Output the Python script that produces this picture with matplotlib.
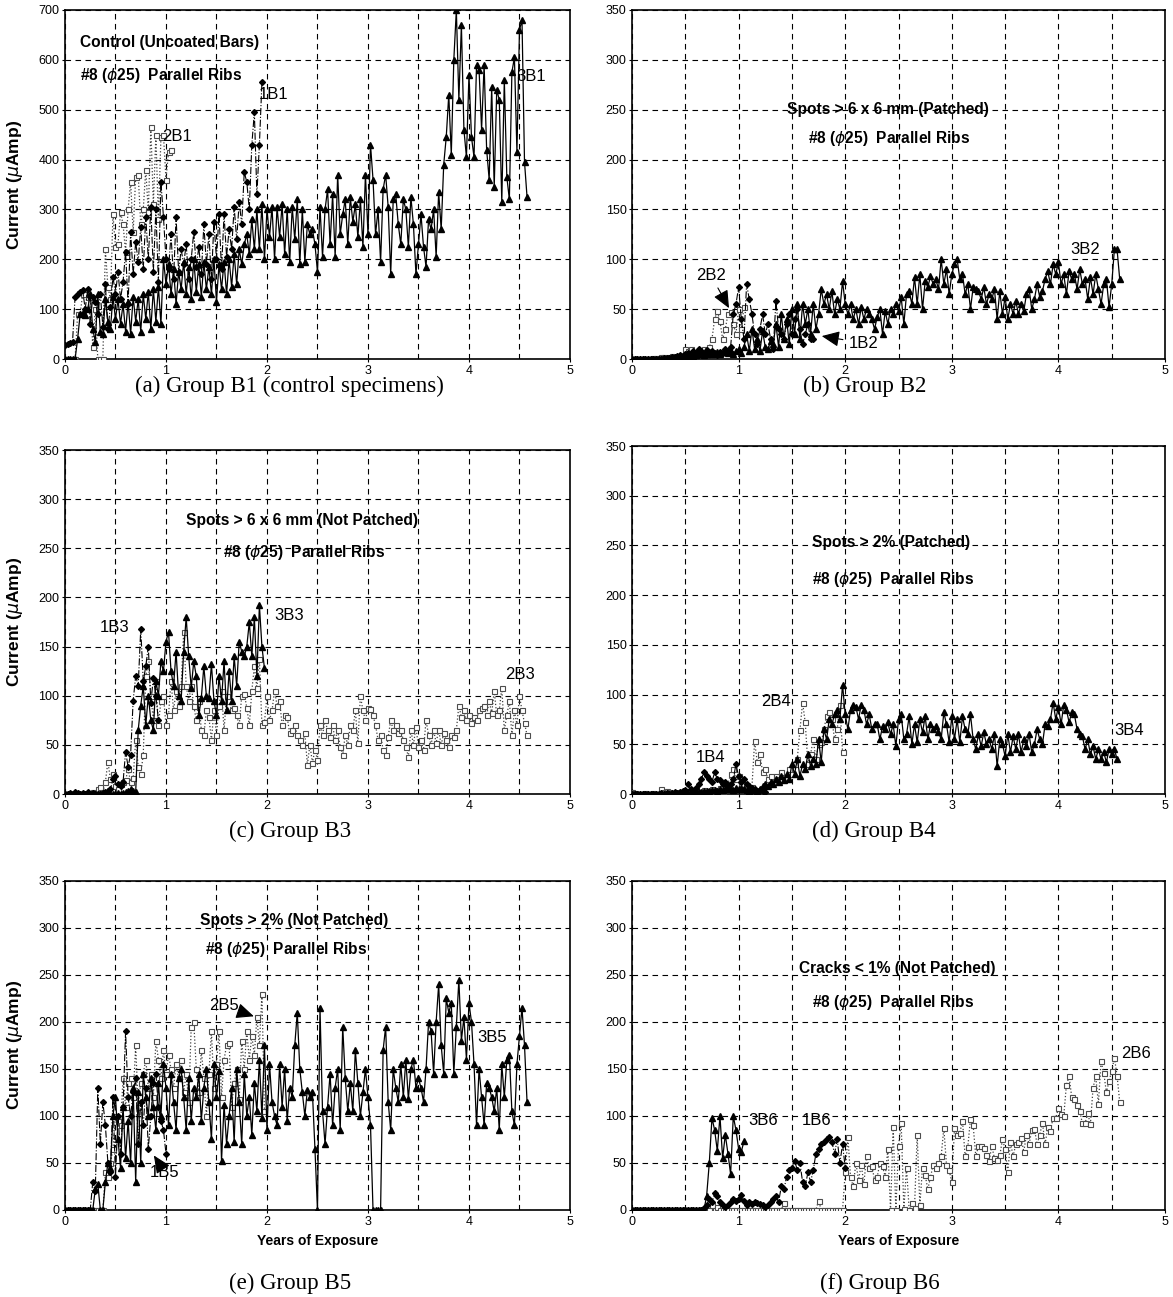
import numpy as np
import matplotlib
matplotlib.use("Agg")
import matplotlib.pyplot as plt
from matplotlib.ticker import MultipleLocator

plt.rcParams['font.family'] = ['Liberation Sans', 'DejaVu Sans']

DT = 0.025  # years between readings

# ---- Group B1 (control) ----
b1_1 = [28,30,33,35,125,130,135,138,100,140,70,125,115,90,130,65,150,60,105,165,
        130,175,120,155,215,110,255,170,235,195,265,180,285,200,305,175,300,155,355,285,
        200,180,250,160,285,175,220,190,230,160,200,255,185,225,170,270,190,250,160,275,
        200,290,180,290,205,260,220,305,240,315,270,375,355,300,430,495,330,430,555]
b1_2 = [0,0,0,0,0,90,90,130,130,125,125,25,100,0,0,0,220,145,120,290,
        225,230,295,270,215,300,355,255,365,370,270,300,380,295,465,310,450,280,445,450,
        360,415,420]
b1_3 = [0,0,0,0,0,40,90,92,88,100,130,60,35,130,55,50,120,75,60,125,
        80,120,70,110,55,115,50,125,75,120,55,130,80,135,60,140,75,145,70,200,
        150,190,130,180,110,175,140,195,130,185,120,200,135,190,125,195,140,185,130,200,
        115,190,140,195,130,200,145,210,150,220,190,230,250,210,280,220,300,220,310,200,
        300,245,305,200,305,245,310,210,300,195,305,240,320,190,300,195,270,250,260,230,
        175,305,205,300,340,230,330,205,370,250,290,320,230,325,275,310,245,320,225,370,
        250,430,360,250,300,195,340,370,305,170,320,330,270,230,320,300,225,325,270,170,
        230,290,225,185,280,260,300,205,335,260,390,445,530,410,600,700,520,670,460,405,
        570,445,405,590,580,460,590,420,360,545,345,540,520,315,560,365,320,575,605,415,
        660,680,395,325]

# ---- Group B2 ----
b2_1 = [0,0,0,0,0,0,0,0,0,0,0,0,1,1,1,2,2,3,4,3,
        5,6,5,8,6,10,8,5,9,7,8,5,4,7,6,10,8,12,45,55,
        72,40,20,75,60,45,25,15,30,45,25,35,20,10,58,30,25,20,35,45,
        25,40,50,30,15,25,35,20,20]
b2_2 = [0,0,0,0,0,0,0,0,1,1,1,2,2,1,2,3,2,2,3,3,
        10,8,10,5,7,6,8,10,9,12,20,40,48,38,20,30,45,47,35,25,
        50,30,52]
b2_3 = [0,0,0,0,0,0,0,0,0,0,0,0,0,0,1,1,1,1,2,2,
        2,3,3,3,4,5,5,4,5,6,5,6,7,5,7,8,6,8,5,8,
        10,6,12,25,8,30,10,20,8,28,12,10,18,15,35,12,45,20,40,15,
        50,25,55,20,55,35,50,25,55,30,45,70,55,65,50,68,45,60,50,78,
        55,45,55,40,50,35,52,40,50,45,40,30,42,50,25,48,35,50,45,55,
        48,62,35,65,68,55,82,55,85,50,78,72,83,75,80,70,100,75,90,65,
        85,95,100,80,85,65,75,50,72,70,68,60,72,55,65,60,70,40,68,45,
        62,40,55,45,58,45,55,48,65,70,50,60,75,62,68,80,88,75,95,85,
        97,75,85,65,88,80,85,70,90,75,80,60,82,65,85,70,55,75,80,52,
        75,110,110,80]

# ---- Group B3 ----
b3_1 = [0,0,1,0,2,1,0,1,0,2,0,1,0,0,0,1,2,3,5,15,
        18,10,8,12,43,28,40,95,120,110,168,115,130,150,93,118,100,75]
b3_2 = [0,0,0,0,0,0,0,0,0,1,0,2,0,5,7,2,12,33,15,20,
        8,5,10,12,14,25,12,16,55,28,20,40,120,135,100,75,115,70,95,100,
        70,80,115,85,105,90,110,165,110,95,110,90,75,95,65,60,85,78,55,85,
        60,90,105,65,100,95,85,88,80,70,100,102,88,70,105,130,108,137,70,73,
        100,75,85,105,90,95,70,80,78,62,65,70,60,55,50,62,30,50,32,45,
        35,70,60,75,65,58,70,55,65,48,40,60,50,70,65,85,52,100,85,75,
        88,87,80,70,55,60,45,40,58,75,65,70,62,65,55,48,38,65,50,68,
        48,55,45,75,60,50,65,52,65,50,62,55,48,60,58,65,90,78,85,75,
        80,72,78,75,85,88,90,80,95,82,105,80,85,108,65,80,95,60,85,70,
        100,85,72,60]
b3_3 = [0,0,0,0,0,0,0,0,0,0,0,0,0,0,0,0,0,0,0,0,
        0,1,0,1,2,3,5,3,2,65,90,110,70,100,75,65,115,100,135,125,
        155,165,125,110,145,100,95,145,180,140,108,135,120,80,98,130,100,98,132,95,
        80,120,95,135,85,125,95,140,110,155,145,140,150,175,140,180,120,192,150,128]

# ---- Group B4 ----
b4_1 = [0,0,0,0,0,0,0,0,0,0,0,1,0,1,0,1,2,1,2,3,
        4,10,5,3,6,10,15,22,18,15,12,22,15,14,10,12,8,10,15,30,
        18,12,15,10,8,6,5,3,4,3,2]
b4_2 = [2,1,0,0,0,1,0,0,1,0,0,5,2,3,2,1,0,1,2,0,
        2,1,2,0,3,2,1,4,2,3,5,2,4,6,3,8,10,20,25,15,
        18,10,5,8,6,7,53,32,40,22,25,15,18,12,18,15,22,17,15,25,
        20,30,35,64,92,72,30,40,55,35,50,52,65,78,82,75,55,65,90,42]
b4_3 = [0,0,0,0,0,0,0,0,0,0,0,0,0,0,0,0,0,0,0,1,
        1,1,1,2,2,2,2,3,3,3,4,4,3,5,4,5,6,5,4,6,
        5,6,5,4,3,5,4,3,5,8,10,8,12,10,15,12,18,14,20,15,
        30,20,35,18,30,25,40,28,35,30,55,32,65,55,75,70,80,85,75,110,
        80,65,85,90,88,75,90,85,70,80,65,70,70,55,68,65,72,60,70,48,
        75,80,55,60,78,50,70,52,75,62,78,55,70,65,68,62,55,82,70,52,
        78,55,75,52,78,65,60,80,55,45,60,48,62,50,55,45,60,28,55,50,
        38,60,42,58,45,60,42,55,48,60,42,50,65,55,50,70,68,75,92,75,
        88,70,90,85,72,82,80,65,60,58,45,55,40,48,35,45,35,42,32,45,
        40,45,35]

# ---- Group B5 ----
b5_1 = [0,0,0,0,0,0,0,0,0,0,0,30,20,130,70,115,90,50,40,120,
        35,100,60,110,190,120,100,125,140,70,115,90,130,65,100,135,145,110,95,85,
        60]
b5_2 = [0,0,0,0,0,0,0,0,0,0,0,0,0,0,0,0,40,35,50,65,
        100,95,90,140,110,135,140,120,175,110,135,145,160,130,145,120,180,160,140,170,
        145,165,150,130,155,140,160,125,145,115,195,200,150,125,170,140,100,145,190,130,
        155,190,120,160,175,178,110,135,150,118,180,150,190,160,185,165,205,175,230,105]
b5_3 = [0,0,0,0,0,0,0,0,0,0,0,0,22,28,0,0,30,50,45,100,
        120,75,45,110,55,95,50,130,30,125,50,145,120,100,140,110,85,135,100,155,
        130,90,145,115,85,140,150,120,85,140,95,130,120,145,95,130,150,115,75,155,
        120,148,52,112,70,100,130,72,150,115,70,145,100,120,80,135,105,160,98,175,
        85,155,115,100,90,155,110,150,95,130,120,175,210,150,125,100,128,120,125,65,
        0,215,105,70,110,145,90,130,150,85,195,140,105,135,105,170,135,100,125,150,
        120,90,0,0,0,0,170,195,115,85,150,130,115,155,120,160,118,150,160,130,
        140,130,115,150,200,190,145,200,240,175,145,225,210,220,145,195,245,180,205,160,
        220,200,155,90,150,120,90,135,130,120,105,130,85,155,120,160,165,105,90,155,
        185,215,175,115]

# ---- Group B6 ----
b6_1 = [0,0,0,0,0,0,0,0,0,0,0,0,0,0,0,0,0,0,0,0,
        0,0,0,0,0,0,0,2,5,12,8,18,15,8,5,3,5,8,12,10,
        12,16,10,5,8,6,8,7,6,5,3,5,8,12,15,8,25,22,35,42,
        45,52,43,50,30,25,40,30,42,60,65,70,72,75,78,72,60,75,50,70,
        45]
b6_2 = [0,0,0,0,0,0,0,0,0,0,0,0,0,0,0,0,0,0,0,0,
        0,0,0,0,0,0,0,0,0,0,5,0,3,0,0,0,0,0,0,0,
        0,0,0,0,0,0,0,0,0,0,0,0,0,0,0,0,0,7,0,0,
        0,0,0,0,0,0,0,0,0,0,10,0,0,0,0,0,0,0,0,0,
        40,78,35,25,50,32,48,28,57,45,47,32,35,50,47,35,65,0,88,0,
        68,92,1,45,0,7,2,80,5,45,37,22,35,48,45,50,57,87,48,42,
        30,87,80,82,95,57,67,97,90,57,68,68,66,58,52,68,55,53,58,75,
        65,40,72,57,70,72,77,62,80,70,85,86,70,80,93,70,88,84,98,98,
        108,102,100,133,142,120,118,112,105,92,92,103,91,130,142,113,158,146,125,137,
        148,162,143,115]
b6_3 = [0,0,0,0,0,0,0,0,0,0,0,0,0,0,0,0,0,0,0,0,
        0,0,0,0,0,0,0,0,15,50,98,85,63,100,55,80,60,38,100,85,
        65,62,73]

rib = "#8 ($\\phi$25)  Parallel Ribs"
panels = [
    dict(rect=[0.0554, 0.7232, 0.4305, 0.2691], s=(b1_1, b1_2, b1_3), ymax=700, ystep=100,
         notes=[("Control (Uncoated Bars)", 0.15, 635, 'left'), (rib, 0.15, 568, 'left')],
         labels=[("1B1", 2.07, 531), ("2B1", 1.11, 447), ("3B1", 4.62, 566)],
         arrows=[], cap="(a) Group B1 (control specimens)", ylab=True, xlab=False),
    dict(rect=[0.5388, 0.7232, 0.4544, 0.2691], s=(b2_1, b2_2, b2_3), ymax=350, ystep=50,
         notes=[("Spots > 6 x 6 mm (Patched)", 2.4, 250, 'center'), (rib, 2.41, 221, 'center')],
         labels=[("3B2", 4.25, 110)],
         arrows=[("2B2", 0.74, 84, 0.91, 51), ("1B2", 2.17, 16, 1.78, 23)],
         cap="(b) Group B2", ylab=False, xlab=False),
    dict(rect=[0.0554, 0.3878, 0.4305, 0.2652], s=(b3_1, b3_2, b3_3), ymax=350, ystep=50,
         notes=[("Spots > 6 x 6 mm (Not Patched)", 2.35, 278, 'center'), (rib, 2.37, 246, 'center')],
         labels=[("1B3", 0.49, 169), ("3B3", 2.22, 182), ("2B3", 4.51, 122)],
         arrows=[], cap="(c) Group B3", ylab=True, xlab=False),
    dict(rect=[0.5388, 0.3878, 0.4544, 0.2683], s=(b4_1, b4_2, b4_3), ymax=350, ystep=50,
         notes=[("Spots > 2% (Patched)", 2.43, 253, 'center'), (rib, 2.45, 216, 'center')],
         labels=[("1B4", 0.74, 37), ("2B4", 1.35, 93), ("3B4", 4.66, 64)],
         arrows=[], cap="(d) Group B4", ylab=False, xlab=False),
    dict(rect=[0.0554, 0.0671, 0.4305, 0.2537], s=(b5_1, b5_2, b5_3), ymax=350, ystep=50,
         notes=[("Spots > 2% (Not Patched)", 2.27, 308, 'center'), (rib, 2.19, 277, 'center')],
         labels=[("3B5", 4.23, 183)],
         arrows=[("2B5", 1.57, 217, 1.87, 206), ("1B5", 0.99, 40, 0.88, 58)],
         cap="(e) Group B5", ylab=True, xlab=True),
    dict(rect=[0.5388, 0.0671, 0.4544, 0.2537], s=(b6_1, b6_2, b6_3), ymax=350, ystep=50,
         notes=[("Cracks < 1% (Not Patched)", 2.49, 257, 'center'), (rib, 2.45, 221, 'center')],
         labels=[("3B6", 1.23, 95), ("1B6", 1.73, 95), ("2B6", 4.73, 166)],
         arrows=[], cap="(f) Group B6", ylab=False, xlab=True),
]

# caption baselines (figure fraction)
cap_pos = [(0.247, 0.6980), (0.7374, 0.6980), (0.247, 0.3550), (0.745, 0.3550), (0.247, 0.0065), (0.75, 0.0065)]

fig = plt.figure(figsize=(11.73, 12.97), dpi=100)

for k, p in enumerate(panels):
    ax = fig.add_axes(p['rect'])
    s1, s2, s3 = p['s']
    t1 = np.arange(len(s1)) * DT
    t2 = np.arange(len(s2)) * DT
    t3 = np.arange(len(s3)) * DT
    ax.plot(t2, s2, ls=':', lw=0.9, color='0.25', marker='s', ms=3.6, mfc='white', mec='0.3', mew=0.8, zorder=3)
    ax.plot(t1, s1, ls='-.', lw=0.8, color='black', marker='D', ms=3.0, mfc='black', mec='black', zorder=4)
    ax.plot(t3, s3, ls='-', lw=0.9, color='black', marker='^', ms=4.0, mfc='black', mec='black', zorder=5)

    ax.set_xlim(0, 5)
    ax.set_ylim(0, p['ymax'])
    ax.xaxis.set_major_locator(MultipleLocator(1))
    ax.xaxis.set_minor_locator(MultipleLocator(0.5))
    ax.yaxis.set_major_locator(MultipleLocator(p['ystep']))
    ax.grid(True, which='both', axis='x', color='black', ls=(0, (5, 4)), lw=0.8)
    ax.grid(True, which='major', axis='y', color='black', ls=(0, (5, 4)), lw=0.8)
    ax.set_axisbelow(True)
    ax.tick_params(which='major', direction='out', length=2.5, labelsize=9, pad=1.5)
    ax.tick_params(which='minor', length=0)
    for sp in ax.spines.values():
        sp.set_linewidth(1.2)

    for txt, x, y, ha in p['notes']:
        ax.text(x, y, txt, fontsize=11.2, fontweight='bold', ha=ha, va='center', zorder=6)
    for txt, x, y in p['labels']:
        ax.text(x, y, txt, fontsize=12, ha='center', va='center', zorder=6)
    for txt, x, y, hx, hy in p['arrows']:
        ax.annotate(txt, xy=(hx, hy), xytext=(x, y), fontsize=12, ha='center', va='center', zorder=6,
                    arrowprops=dict(arrowstyle='-|>,head_length=0.9,head_width=0.4', color='black', lw=0.8,
                                    shrinkA=2, shrinkB=0))

    if p['ylab']:
        ax.set_ylabel("Current ($\\mu$Amp)", fontsize=12.5, fontweight='bold')
        ax.yaxis.set_label_coords(-0.08, 0.5)
    if p['xlab']:
        ax.set_xlabel("Years of Exposure", fontsize=10, fontweight='bold', labelpad=5)

    cx, cy = cap_pos[k]
    fig.text(cx, cy, p['cap'], fontsize=16.5, family='Liberation Serif', ha='center', va='baseline')

fig.savefig("out.png", dpi=100)
